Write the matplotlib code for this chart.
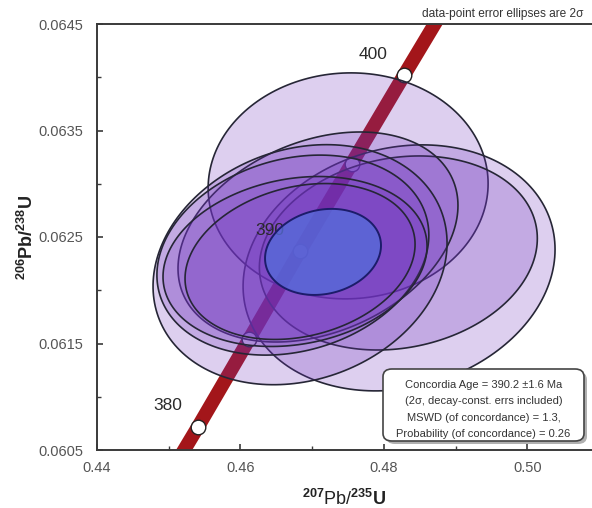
import numpy as np
import matplotlib
matplotlib.use("Agg")
import matplotlib.pyplot as plt
from matplotlib.patches import FancyBboxPatch

plt.rcParams['font.family'] = ['Liberation Sans', 'DejaVu Sans']
plt.rcParams['mathtext.fontset'] = 'custom'
plt.rcParams['mathtext.rm'] = 'Liberation Sans'
plt.rcParams['mathtext.bf'] = 'Liberation Sans:bold'
plt.rcParams['mathtext.it'] = 'Liberation Sans:italic'

# ---- data ----
# concordia curve points (age in Ma, 207Pb/235U, 206Pb/238U)
conc_age = [375, 380, 385, 390, 395, 400, 405]
conc_x = [0.4468, 0.4541, 0.4612, 0.4683, 0.4755, 0.4828, 0.4901]
conc_y = [0.05990, 0.06072, 0.06154, 0.06237, 0.06319, 0.06402, 0.06484]
marked_ages = [380, 385, 390, 395, 400]
labelled_ages = [380, 390, 400]

# data-point ellipses (2 sigma): centre x, centre y, 2s x, 2s y, rho
ell_x = [0.4750, 0.4821, 0.4820, 0.4708, 0.4683, 0.4673, 0.4676, 0.4683]
ell_y = [0.06298, 0.06221, 0.06235, 0.06250, 0.06224, 0.06233, 0.06227, 0.06227]
ell_sx = [0.01951, 0.02174, 0.01937, 0.01951, 0.02049, 0.01895, 0.01840, 0.01603]
ell_sy = [0.001061, 0.001155, 0.000911, 0.000986, 0.001127, 0.000939, 0.000798, 0.000732]
ell_rho = [0.02, 0.15, 0.15, 0.30, 0.18, 0.20, 0.18, 0.22]

# concordia age ellipse
age_x, age_y, age_sx, age_sy, age_rho = 0.4715, 0.06236, 0.00808, 0.000404, 0.15

x_ticks = [0.44, 0.46, 0.48, 0.50]
y_ticks = [0.0605, 0.0615, 0.0625, 0.0635, 0.0645]
box_lines = ["Concordia Age = 390.2 \u00b11.6 Ma",
             "(2\u03c3, decay-const. errs included)",
             "MSWD (of concordance) = 1.3,",
             "Probability (of concordance) = 0.26"]


def ellipse_pts(cx, cy, sx, sy, rho, n=200):
    t = np.linspace(0, 2 * np.pi, n)
    cov = np.array([[sx * sx, rho * sx * sy], [rho * sx * sy, sy * sy]])
    L = np.linalg.cholesky(cov)
    pts = L @ np.vstack([np.cos(t), np.sin(t)])
    return cx + pts[0], cy + pts[1]


fig = plt.figure(figsize=(5.92, 5.08), dpi=100)
ax = fig.add_axes([97 / 592, 58 / 508, 495 / 592, 426 / 508])
ax.set_xlim(0.44, 0.50899)
ax.set_ylim(0.0605, 0.0645)

# concordia band
ax.plot(conc_x, conc_y, color='#a3161a', lw=10, solid_capstyle='butt', zorder=1)
mx = [conc_x[conc_age.index(a)] for a in marked_ages]
my = [conc_y[conc_age.index(a)] for a in marked_ages]
ax.plot(mx, my, 'o', ms=10.5, mfc='white', mec='#222222', mew=1.0, zorder=2)
for a in labelled_ages:
    i = conc_age.index(a)
    ax.annotate(str(a), (conc_x[i], conc_y[i]), xytext=(-22, 15),
                textcoords='offset points', ha='center', va='center',
                fontsize=12.5, color='#2a2a2a', zorder=3.5)

# data ellipses
for cx, cy, sx, sy, r in zip(ell_x, ell_y, ell_sx, ell_sy, ell_rho):
    ex, ey = ellipse_pts(cx, cy, sx, sy, r)
    ax.fill(ex, ey, facecolor=(110 / 255, 50 / 255, 190 / 255, 0.23),
            edgecolor='#262636', lw=1.2, zorder=3)

# concordia age ellipse
ex, ey = ellipse_pts(age_x, age_y, age_sx, age_sy, age_rho)
ax.fill(ex, ey, facecolor=(0.33, 0.42, 0.85, 0.78), edgecolor='#1c1c6a', lw=1.4, zorder=4)

# axes style
for s in ['left', 'bottom', 'top']:
    ax.spines[s].set_color('#3a3a3a')
    ax.spines[s].set_linewidth(1.4)
ax.spines['right'].set_visible(False)
ax.set_xticks(x_ticks)
ax.set_xticklabels([f"{v:.2f}" for v in x_ticks])
ax.set_yticks(y_ticks)
ax.set_yticklabels([f"{v:.4f}" for v in y_ticks])
ax.set_xticks([0.45, 0.47, 0.49], minor=True)
ax.set_yticks([0.0610, 0.0620, 0.0630, 0.0640], minor=True)
ax.tick_params(which='both', direction='in', color='#3a3a3a', labelcolor='#555555',
               labelsize=10.5, right=False, top=False)
ax.tick_params(which='major', length=4, width=1.2)
ax.tick_params(which='minor', length=3, width=1.0)
ax.tick_params(axis='y', pad=10)
ax.tick_params(axis='x', pad=8)

ax.set_xlabel(r'$^{\mathbf{207}}\mathrm{Pb/}^{\mathbf{235}}\mathbf{U}$', fontsize=13,
              color='#222222', labelpad=10)
ax.set_ylabel(r'$^{\mathbf{206}}\mathbf{Pb/}^{\mathbf{238}}\mathbf{U}$', fontsize=13,
              color='#222222', labelpad=1)

fig.text(422 / 592, 1 - 14 / 508, "data-point error ellipses are 2\u03c3", fontsize=8.6,
         color='#333333', ha='left', va='center')

# result box
bx0, by0, bw, bh = 383 / 592, 1 - 441 / 508, 201 / 592, 72 / 508
shadow = FancyBboxPatch((bx0 + 3 / 592, by0 - 3 / 508), bw, bh,
                        boxstyle='round,pad=0,rounding_size=0.015',
                        transform=fig.transFigure, facecolor='#b0b0b0',
                        edgecolor='none', zorder=5)
box = FancyBboxPatch((bx0, by0), bw, bh, boxstyle='round,pad=0,rounding_size=0.015',
                     transform=fig.transFigure, facecolor='white',
                     edgecolor='#444444', lw=1.2, zorder=6)
fig.patches.extend([shadow, box])
for k, line in enumerate(box_lines):
    fig.text(bx0 + bw / 2, 1 - (385 + 16.3 * k) / 508, line, fontsize=8,
             color='#333333', ha='center', va='center', zorder=7)

fig.savefig('out.png', dpi=100)
